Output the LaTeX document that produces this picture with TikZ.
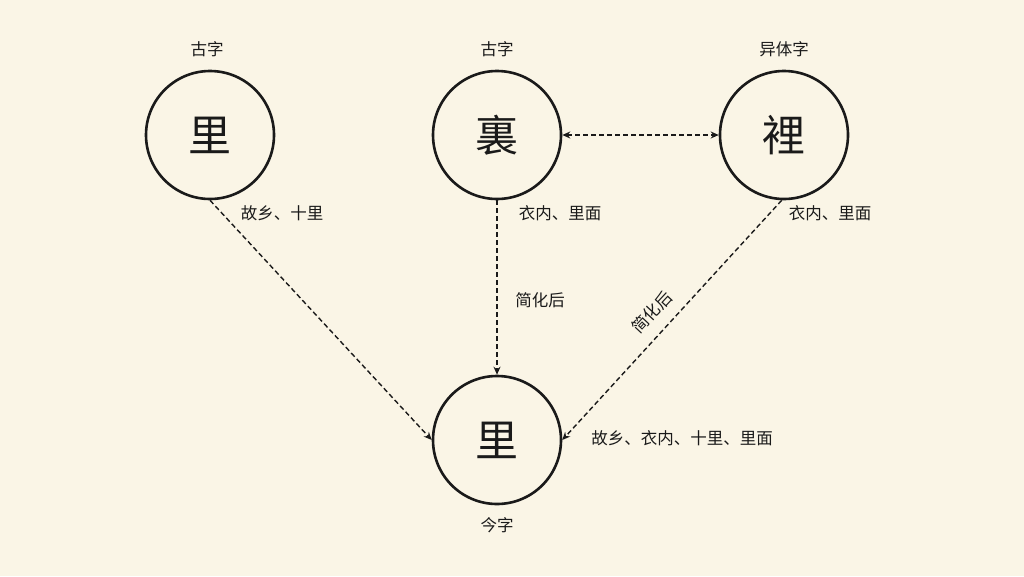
\documentclass[tikz,border=0pt]{standalone}
\usepackage{fontspec}
\setmainfont{Noto Sans CJK SC}
\usetikzlibrary{arrows.meta}
\definecolor{bg}{HTML}{FAF5E6}
\definecolor{ink}{HTML}{1A1A1A}
\begin{document}
\begin{tikzpicture}[x=1pt,y=-1pt,
  circ/.style={circle,draw=ink,line width=2.6pt,minimum size=128pt,inner sep=0pt,font=\fontsize{43}{46}\selectfont,text=ink},
  lab/.style={font=\fontsize{16.5}{19}\selectfont,text=ink},
  tip/.style={-{Stealth[length=8pt,width=7pt]}},
  conn/.style={dash pattern=on 5pt off 3pt,line width=1.4pt,draw=ink,tip}]
\fill[bg] (0,0) rectangle (1024,576);
\useasboundingbox (0,0) rectangle (1024,576);
\node[circ] (a) at (210,135) {里};
\node[circ] (b) at (497,135) {裏};
\node[circ] (c) at (784,135) {裡};
\node[circ] (d) at (497,440) {里};
\node[lab] (la) at (207,49) {古字};
\node[lab] (lb) at (497,49) {古字};
\node[lab] (lc) at (784,49) {异体字};
\node[lab] (ld) at (497,525) {今字};
\draw[conn] (a.-90) -- (d.180);
\draw[conn] (b) -- (d);
\draw[conn] (c.-92) -- (d.0);
\draw[conn,{Stealth[length=8pt,width=7pt]}-{Stealth[length=8pt,width=7pt]}] (b) -- (c);
\node[lab] (e1) at (282,213) {故乡、十里};
\node[lab] (e2) at (560,213) {衣内、里面};
\node[lab] (e3) at (830,213) {衣内、里面};
\node[lab] (e4) at (540,300) {简化后};
\node[lab,rotate=47] (e5) at (652,312) {简化后};
\node[lab] (e6) at (682,438) {故乡、衣内、十里、里面};
\end{tikzpicture}
\end{document}
